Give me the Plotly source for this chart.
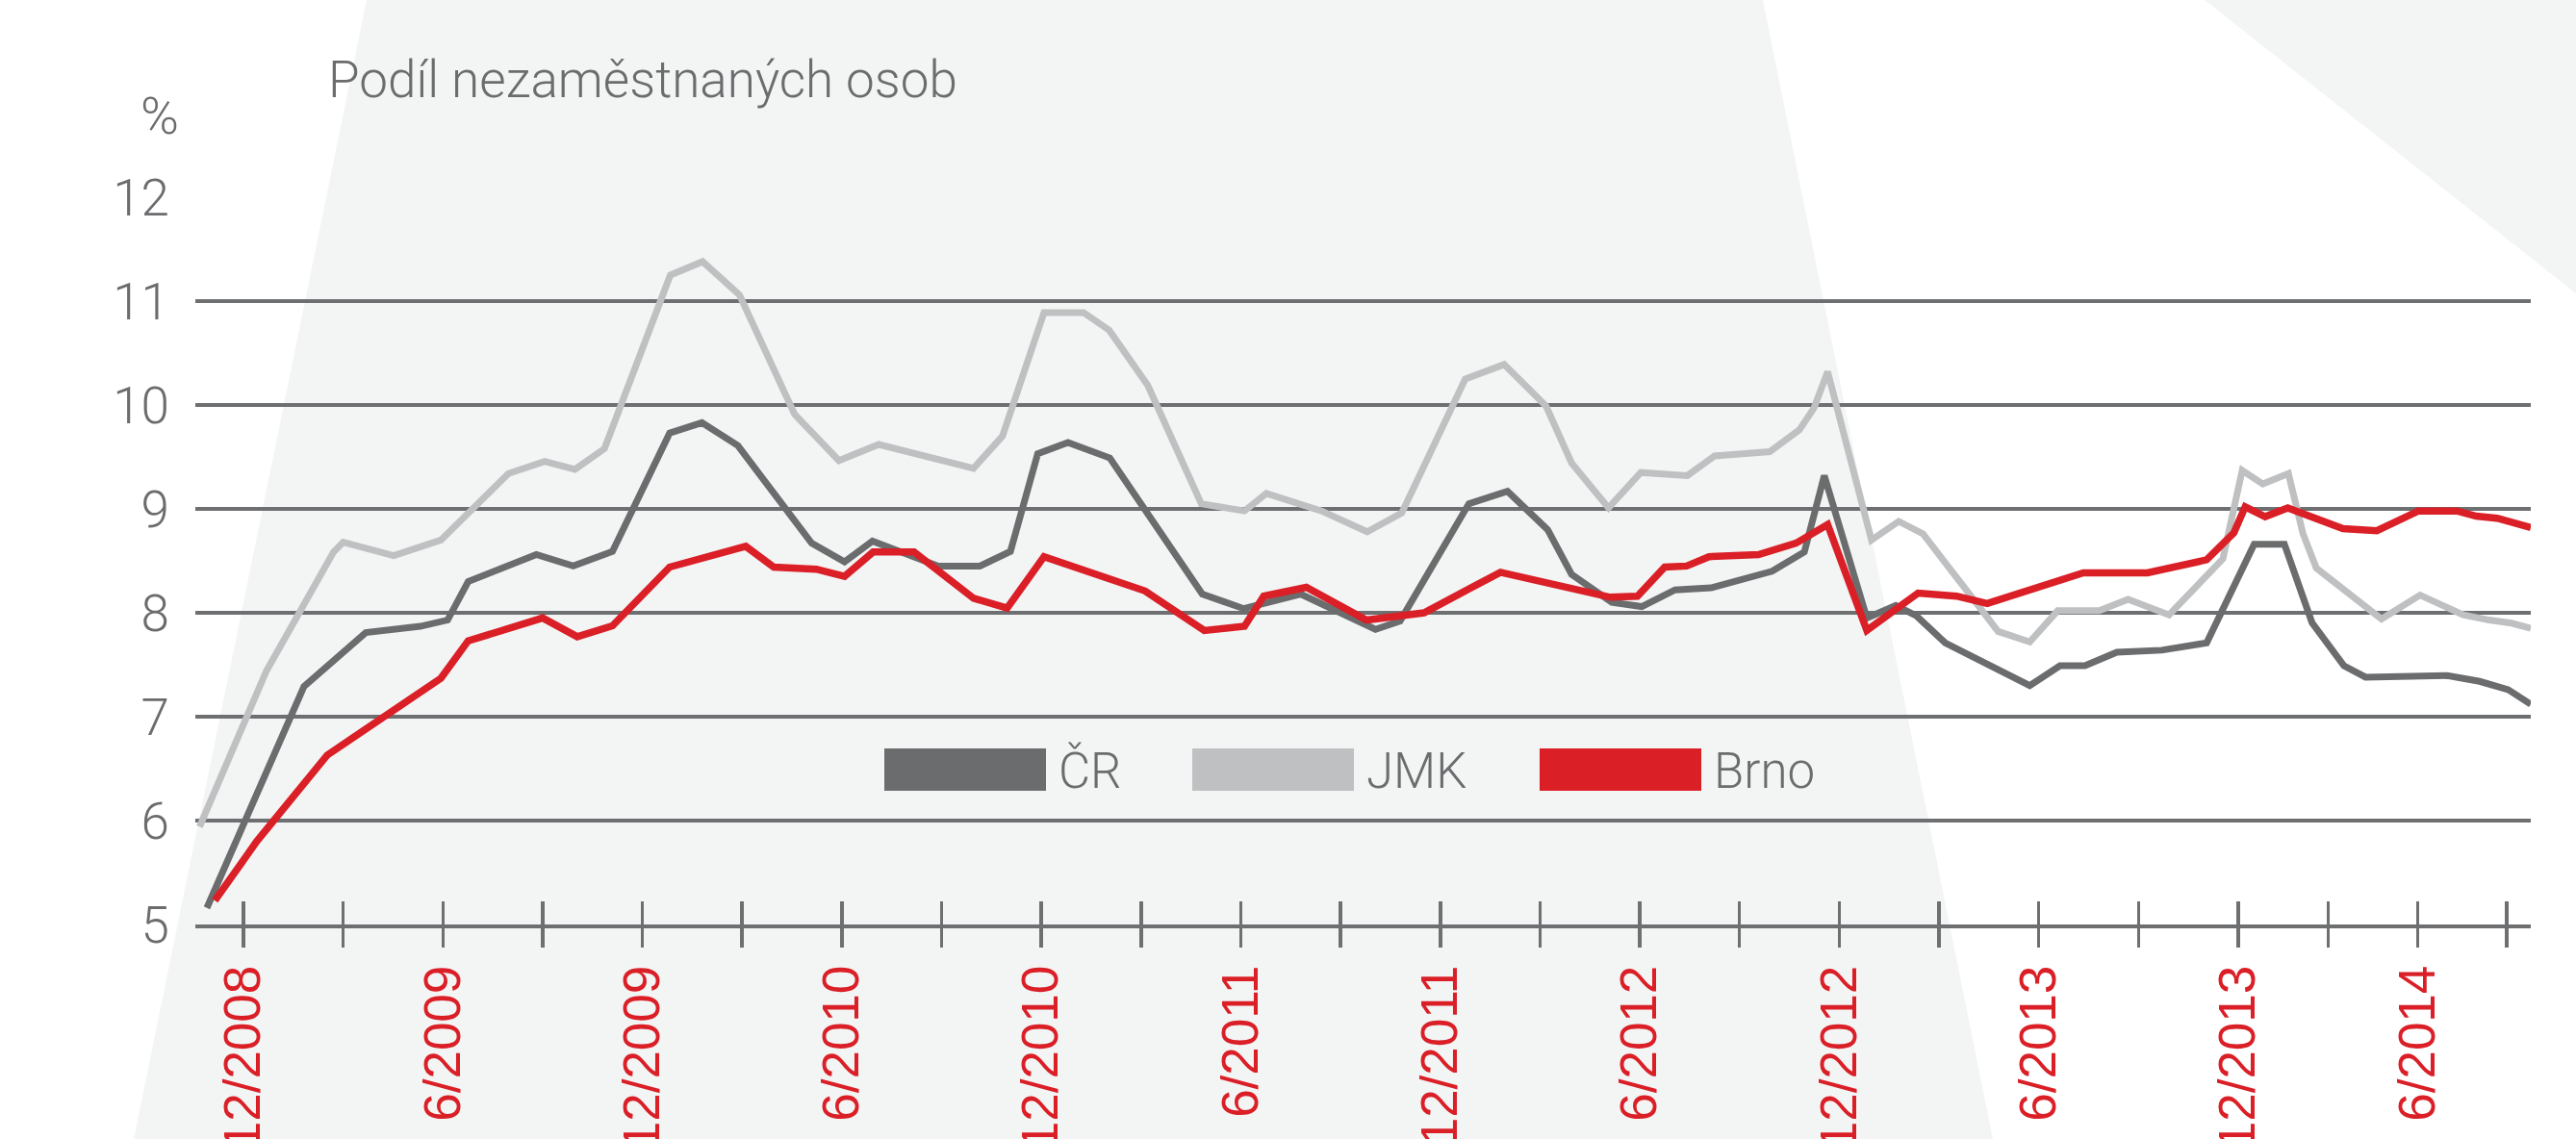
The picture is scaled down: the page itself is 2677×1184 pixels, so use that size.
import plotly.graph_objects as go

# ---------------- data ----------------
# x = position on the time axis in months after 12/2008
CR_X = [-1.1, 1.82, 3.68, 5.32, 6.14, 6.76, 8.81, 9.92, 11.1, 12.82, 13.79, 14.87, 17.09, 18.08, 18.92,
        20.9, 22.15, 23.07, 23.89, 24.8, 26.06, 28.84, 30.09, 31.8, 34.05, 34.79, 36.86, 38.02, 39.23,
        39.95, 41.16, 42.06, 43.06, 44.15, 45.98, 46.95, 47.55, 48.83, 49.7, 50.32, 51.19, 53.73, 54.64,
        55.39, 56.35, 57.7, 59.05, 60.48, 61.39, 62.22, 63.18, 63.83, 66.29, 67.26, 68.12, 68.8]
CR_Y = [5.16, 7.29, 7.81, 7.87, 7.93, 8.30, 8.56, 8.45, 8.59, 9.73, 9.83, 9.61, 8.67, 8.49, 8.69,
        8.45, 8.45, 8.59, 9.53, 9.64, 9.49, 8.18, 8.04, 8.18, 7.84, 7.92, 9.05, 9.17, 8.80,
        8.37, 8.10, 8.06, 8.22, 8.24, 8.40, 8.585, 9.32, 7.95, 8.07, 7.97, 7.71, 7.30, 7.49,
        7.49, 7.62, 7.64, 7.71, 8.66, 8.66, 7.905, 7.49, 7.38, 7.395, 7.34, 7.26, 7.12]

JMK_X = [-1.32, 0.69, 2.71, 3.0, 4.52, 5.94, 7.97, 9.06, 9.97, 10.86, 12.84, 13.81, 14.92, 16.58, 17.91,
         19.11, 21.96, 22.83, 24.08, 25.27, 26.04, 27.2, 28.81, 30.11, 30.77, 32.43, 33.8, 34.84, 36.75,
         37.92, 39.18, 39.95, 41.06, 42.03, 43.43, 44.25, 45.91, 46.8, 47.24, 47.65, 48.97, 49.79, 50.52,
         52.78, 53.73, 54.57, 55.82, 56.69, 57.92, 59.54, 60.12, 60.74, 61.51, 61.95, 62.35, 64.31, 65.47,
         66.77, 67.55, 68.22, 68.8]
JMK_Y = [5.94, 7.44, 8.585, 8.68, 8.55, 8.70, 9.34, 9.457, 9.38, 9.58, 11.25, 11.38, 11.06, 9.91, 9.465,
         9.62, 9.39, 9.70, 10.89, 10.89, 10.72, 10.19, 9.05, 8.98, 9.15, 8.98, 8.78, 8.96, 10.25,
         10.39, 9.99, 9.44, 9.01, 9.35, 9.32, 9.51, 9.55, 9.76, 9.97, 10.32, 8.70, 8.88, 8.76,
         7.82, 7.72, 8.02, 8.02, 8.13, 7.98, 8.52, 9.37, 9.24, 9.34, 8.76, 8.43, 7.94, 8.17,
         7.98, 7.93, 7.90, 7.85]

BRNO_X = [-0.86, 0.40, 2.52, 5.94, 6.76, 9.0, 10.04, 11.1, 12.82, 15.11, 15.95, 17.23, 18.08, 18.94,
          20.17, 21.04, 21.96, 22.97, 24.08, 27.12, 28.9, 30.11, 30.69, 31.97, 33.78, 35.51, 37.81,
          41.11, 41.93, 42.75, 43.41, 44.08, 45.57, 46.7, 47.65, 48.83, 50.37, 51.53, 52.45, 55.34,
          57.27, 59.05, 59.87, 60.21, 60.81, 61.49, 63.15, 64.17, 65.42, 66.58, 67.16, 67.79, 68.8]
BRNO_Y = [5.23, 5.80, 6.63, 7.37, 7.73, 7.95, 7.77, 7.875, 8.44, 8.64, 8.44, 8.42, 8.35, 8.585,
          8.585, 8.37, 8.14, 8.045, 8.54, 8.21, 7.83, 7.87, 8.16, 8.245, 7.93, 8.0, 8.39,
          8.15, 8.16, 8.44, 8.45, 8.54, 8.56, 8.67, 8.85, 7.83, 8.19, 8.16, 8.09, 8.385,
          8.385, 8.51, 8.77, 9.02, 8.925, 9.01, 8.81, 8.79, 8.98, 8.98, 8.93, 8.91, 8.82]

SERIES_NAMES = ["ČR", "JMK", "Brno"]
TICK_POS = [0, 3, 6, 9, 12, 15, 18, 21, 24, 27, 30, 33, 36, 39, 42, 45, 48, 51, 54, 57, 60, 62.71, 65.40, 68.08]
TICK_TEXT = ["12/2008", "", "6/2009", "", "12/2009", "", "6/2010", "", "12/2010", "", "6/2011", "",
             "12/2011", "", "6/2012", "", "12/2012", "", "6/2013", "", "12/2013", "", "6/2014", ""]
Y_TICKS = [5, 6, 7, 8, 9, 10, 11, 12]
TITLE = "Podíl nezaměstnaných osob"
UNIT = "%"

# ---------------- layout geometry (screen pixels) ----------------
W, H = 2677, 1184
PLOT_L, PLOT_R, PLOT_T, PLOT_B = 203, 2630, 205, 961   # plot area on screen
L, T, R, B = PLOT_L, PLOT_T, W - PLOT_R, H - PLOT_B
PW, PH = PLOT_R - PLOT_L, PLOT_B - PLOT_T

DARK = "#6b6c6e"
GRID = "#6e6f71"
LIGHT = "#bfc0c2"
RED = "#da1f27"
BG = "#f3f4f4"
TXT = "#6b6c6e"
LIGHTFONT = dict(family="Roboto, Liberation Sans, sans-serif", weight=300, color=TXT)


def px(x):
    return (x - PLOT_L) / PW


def py(y):
    return (PLOT_B - y) / PH


fig = go.Figure()
for xs, ys, col, nm, lw in [(CR_X, CR_Y, DARK, SERIES_NAMES[0], 7),
                            (JMK_X, JMK_Y, LIGHT, SERIES_NAMES[1], 7),
                            (BRNO_X, BRNO_Y, RED, SERIES_NAMES[2], 7.5)]:
    fig.add_trace(go.Scatter(x=xs, y=ys, mode="lines", name=nm,
                             line=dict(color=col, width=lw), showlegend=False))

# invisible trace on an overlay axis that carries the inward half of the ticks
fig.add_trace(go.Scatter(x=[TICK_POS[0]], y=[Y_TICKS[0]], xaxis="x2", mode="markers",
                         marker=dict(opacity=0), showlegend=False, hoverinfo="skip"))

shapes = []
# background decorative polygons
poly1 = [(381 + 0.2022 * 20, -20), (1832 - 0.2022 * 20, -20), (2071 + 0.2022 * 20, H + 20), (139 - 0.2044 * 20, H + 20)]
poly2 = [(2291 - 1.264 * 20, -20), (W + 20, -20), (W + 20, 305 + 20 / 1.264)]
for poly in (poly1, poly2):
    path = "M " + " L ".join(f"{px(a):.5f},{py(b):.5f}" for a, b in poly) + " Z"
    shapes.append(dict(type="path", xref="paper", yref="paper", path=path,
                       fillcolor=BG, line=dict(width=0), layer="below"))

# manual legend (large colour bars)
LEG = [(919, DARK, SERIES_NAMES[0]), (1239, LIGHT, SERIES_NAMES[1]), (1600, RED, SERIES_NAMES[2])]
annotations = []
for x0, col, nm in LEG:
    shapes.append(dict(type="rect", xref="paper", yref="paper", x0=px(x0), x1=px(x0 + 168),
                       y0=py(822), y1=py(778), fillcolor=col, line=dict(width=0), layer="above"))
    annotations.append(dict(text=nm, xref="paper", yref="paper", x=px(x0 + 179), y=py(801),
                            xanchor="left", yanchor="middle", showarrow=False,
                            font=dict(size=51, **LIGHTFONT)))

annotations.append(dict(text=TITLE, xref="paper", yref="paper", x=px(339), y=py(83),
                        xanchor="left", yanchor="middle", showarrow=False,
                        font=dict(size=53, **LIGHTFONT)))
annotations.append(dict(text=UNIT, xref="paper", yref="paper", x=px(188), y=py(121),
                        xanchor="right", yanchor="middle", showarrow=False,
                        font=dict(size=54, **LIGHTFONT)))

fig.update_layout(
    template="none",
    width=W, height=H, autosize=False,
    margin=dict(l=L, r=R, t=T, b=B, pad=0, autoexpand=False),
    paper_bgcolor="white", plot_bgcolor="rgba(0,0,0,0)",
    shapes=shapes, annotations=annotations, hovermode=False,
    xaxis=dict(range=[-1.447, 68.8], tickmode="array", tickvals=TICK_POS, ticktext=TICK_TEXT,
               tickangle=-90, ticks="outside", ticklen=20, tickwidth=3.5, tickcolor=GRID,
               showgrid=False, zeroline=False, showline=True, linecolor=GRID, linewidth=3.5,
               automargin=False,
               tickfont=dict(family="Liberation Sans, Arial, sans-serif", size=53, color=RED),
               ticklabelstandoff=-2),
    xaxis2=dict(overlaying="x", matches="x", anchor="y", side="bottom", tickmode="array",
                tickvals=TICK_POS, showticklabels=False, ticks="inside", ticklen=24, tickwidth=3.5,
                tickcolor=GRID, showgrid=False, zeroline=False, showline=False, automargin=False),
    yaxis=dict(range=[5, 12], tickmode="array", tickvals=Y_TICKS, showgrid=True, gridcolor=GRID,
               gridwidth=3.5, zeroline=False, showline=False, ticks="", automargin=False,
               tickfont=dict(size=53, **LIGHTFONT), ticklabelstandoff=26),
)

fig.write_html("out.html", config={"displayModeBar": False, "staticPlot": True},
               post_script="document.body.style.margin='0';document.body.style.overflow='hidden';")
